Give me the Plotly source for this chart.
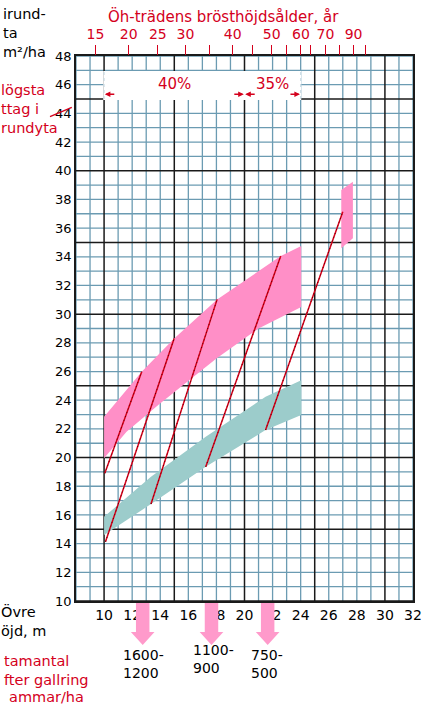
import plotly.graph_objects as go

# ---------------- data ----------------
x_range = [8, 32]            # övre höjd, m
y_range = [10, 48]           # grundyta, m2/ha
x_tick_vals = list(range(10, 33, 2))
y_tick_vals = list(range(10, 49, 2))

# top axis: breast-height age of dominant trees and the height where each tick sits
age_ticks = [15, 20, 25, 30, 35, 40, 45, 50, 55, 60, 65, 70, 80, 90, 100]
age_tick_height = [9.39, 11.75, 13.83, 15.80, 17.53, 19.16, 20.55, 21.94,
                   22.98, 24.02, 24.72, 25.76, 26.80, 27.77, 28.65]
age_labelled = [15, 20, 25, 30, 40, 50, 60, 70, 90]

# pink band: basal area when thinning is due
pink_upper_x = [10.0, 12.68, 14.99, 18.05, 22.58, 24.04]
pink_upper_y = [22.85, 25.99, 28.31, 31.03, 34.05, 34.75]
pink_lower_x = [10.0, 11.6, 13.9, 15.2, 18.0, 21.0, 24.04]
pink_lower_y = [19.95, 21.8, 23.7, 24.7, 26.9, 29.0, 30.5]

# small pink patch (final felling)
patch_x = [26.89, 27.72, 27.72, 26.89]
patch_y = [34.59, 35.29, 39.23, 38.66]

# teal band: basal area after thinning
teal_upper_x = [10.0, 13.34, 17.24, 21.5, 24.04]
teal_upper_y = [15.87, 18.66, 21.45, 24.24, 25.4]
teal_lower_x = [10.0, 13.34, 17.24, 21.5, 24.04]
teal_lower_y = [14.6, 16.76, 19.36, 21.92, 22.97]

# growth lines between thinnings
growth_start_x = [10.05, 10.1, 13.34, 17.24, 21.5]
growth_start_y = [18.9, 14.13, 16.76, 19.36, 21.92]
growth_end_x = [12.68, 14.99, 18.05, 22.58, 27.0]
growth_end_y = [25.99, 28.31, 31.03, 34.05, 37.14]

# highest removal in basal area, by height range
removal_ranges = [(10, 20), (20, 24)]
removal_pct = ["40%", "35%"]

# stems per hectare after thinning
stem_heights = [12.75, 17.65, 21.65]
stem_labels = ["1600-<br>1200", "1100-<br>900", "750-<br>500"]

# ---------------- style ----------------
RED = "#d4001c"
BLUE = "#6b9bb2"
BLACK = "#1a1a1a"
PINK = "#ff8fc7"
TEAL = "#9ccccb"
ARROW_PINK = "#ff9acb"
FONT = "DejaVu Sans"

W, H = 431, 706
ML, MR, MT, MB = 76, 9, 56, 105


def PX(px):
    return (px - ML) / (W - ML - MR)


def PY(py):
    return (H - MB - py) / (H - MT - MB)


fig = go.Figure()


def grid_trace(vx, vy, color, width):
    xs, ys = [], []
    for v in vx:
        xs += [v, v, None]
        ys += [y_range[0], y_range[1], None]
    for v in vy:
        xs += [x_range[0], x_range[1], None]
        ys += [v, v, None]
    return go.Scatter(x=xs, y=ys, mode="lines", line=dict(color=color, width=width),
                      hoverinfo="skip", showlegend=False)


fig.add_trace(grid_trace([v for v in range(x_range[0], x_range[1] + 1) if v % 5],
                         [v for v in range(y_range[0], y_range[1] + 1) if v % 5],
                         BLUE, 1.3))
fig.add_trace(grid_trace([v for v in range(x_range[0], x_range[1] + 1) if v % 5 == 0],
                         [v for v in range(y_range[0], y_range[1] + 1) if v % 5 == 0],
                         BLACK, 1.5))

# white label box
bx0, bx1 = removal_ranges[0][0], removal_ranges[-1][1]
fig.add_trace(go.Scatter(x=[bx0 - 0.06, bx1 + 0.04, bx1 + 0.04, bx0 - 0.06, bx0 - 0.06],
                         y=[44.93, 44.93, 46.95, 46.95, 44.93], mode="lines", fill="toself",
                         fillcolor="white", line=dict(width=0, color="white"),
                         hoverinfo="skip", showlegend=False))
for bx in (bx0, bx1):
    fig.add_trace(go.Scatter(x=[bx, bx], y=[45.0, 46.95], mode="lines",
                             line=dict(color="#c4d8e2", width=1, dash="dot"),
                             hoverinfo="skip", showlegend=False))

# bands
fig.add_trace(go.Scatter(x=pink_upper_x + pink_lower_x[::-1], y=pink_upper_y + pink_lower_y[::-1],
                         mode="lines", fill="toself", fillcolor=PINK, line=dict(width=0, color=PINK),
                         hoverinfo="skip", showlegend=False))
fig.add_trace(go.Scatter(x=patch_x, y=patch_y, mode="lines", fill="toself", fillcolor=PINK,
                         line=dict(width=0, color=PINK), hoverinfo="skip", showlegend=False))
fig.add_trace(go.Scatter(x=teal_upper_x + teal_lower_x[::-1], y=teal_upper_y + teal_lower_y[::-1],
                         mode="lines", fill="toself", fillcolor=TEAL, line=dict(width=0, color=TEAL),
                         hoverinfo="skip", showlegend=False))

# growth lines
gx, gy = [], []
for x0, y0, x1, y1 in zip(growth_start_x, growth_start_y, growth_end_x, growth_end_y):
    gx += [x0, x1, None]
    gy += [y0, y1, None]
fig.add_trace(go.Scatter(x=gx, y=gy, mode="lines", line=dict(color="#d8001a", width=1.5),
                         hoverinfo="skip", showlegend=False))
fig.add_trace(go.Scatter(x=gx, y=gy, mode="lines", line=dict(color="#4a0000", width=0.9, dash="1px,3px"),
                         hoverinfo="skip", showlegend=False))

# dummy trace for top axis
fig.add_trace(go.Scatter(x=[x_range[0]], y=[y_range[0]], xaxis="x2", mode="markers",
                         marker=dict(size=1, opacity=0), hoverinfo="skip", showlegend=False))

# removal labels & arrows
for (a, b), lab in zip(removal_ranges, removal_pct):
    fig.add_annotation(x=(a + b) / 2, y=46.05, text=lab, showarrow=False,
                       xanchor="center", yanchor="middle",
                       font=dict(color=RED, size=15, family=FONT))
    fig.add_annotation(x=a + 0.05, y=45.33, ax=11, ay=0, text="", showarrow=True,
                       arrowhead=2, arrowsize=0.8, arrowwidth=1.4, arrowcolor=RED, standoff=0)
    fig.add_annotation(x=b - 0.05, y=45.33, ax=-11, ay=0, text="", showarrow=True,
                       arrowhead=2, arrowsize=0.8, arrowwidth=1.4, arrowcolor=RED, standoff=0)

# stem arrows and labels
label_px = [122, 194, 254]
label_py = [664, 658.7, 664]
for hx, lab, lpx, lpy in zip(stem_heights, stem_labels, label_px, label_py):
    path = (f"M {hx-0.48},{PY(603)} L {hx+0.48},{PY(603)} L {hx+0.48},{PY(632)} "
            f"L {hx+0.84},{PY(632)} L {hx},{PY(645)} L {hx-0.84},{PY(632)} "
            f"L {hx-0.48},{PY(632)} Z")
    fig.add_shape(type="path", path=path, xref="x", yref="paper", fillcolor=ARROW_PINK,
                  line=dict(width=0), layer="above")
    fig.add_annotation(x=PX(lpx), y=PY(lpy), xref="paper", yref="paper", text=lab,
                       showarrow=False, xanchor="left", yanchor="middle", align="left",
                       font=dict(color="black", size=14, family=FONT))

# title of top axis
fig.add_annotation(x=PX(227), y=PY(16.5), xref="paper", yref="paper",
                   text="Öh-trädens brösthöjdsålder, år", showarrow=False,
                   xanchor="center", yanchor="middle",
                   font=dict(color=RED, size=15, family=FONT))

# side texts (labels cropped at the left edge, as visible)
side_blocks = [
    ("irund-<br>ta<br>m²/ha", 0, 33, "black"),
    ("lögsta<br>ttag i<br>rundyta", -2, 109, RED),
    ("Övre<br>öjd, m", -2, 621, "black"),
    ("tamantal<br>fter gallring", 1, 670, RED),
    ("ammar/ha", 6, 697, RED),
]
for txt, lpx, lpy, col in side_blocks:
    fig.add_annotation(x=PX(lpx), y=PY(lpy), xref="paper", yref="paper", text=txt,
                       showarrow=False, xanchor="left", yanchor="middle", align="left",
                       borderpad=0, font=dict(color=col, size=14.5, family=FONT))

fig.add_shape(type="line", xref="paper", yref="paper", x0=PX(49.3), y0=PY(116.7),
              x1=PX(71.7), y1=PY(107.3), line=dict(color=RED, width=1.3))

fig.update_layout(
    width=W, height=H, margin=dict(l=ML, r=MR, t=MT, b=MB, pad=0),
    paper_bgcolor="white", plot_bgcolor="white", showlegend=False,
    font=dict(family=FONT, color="black"),
    xaxis=dict(range=x_range, tickmode="array", tickvals=x_tick_vals, showgrid=False,
               zeroline=False, showline=True, linecolor=BLACK, linewidth=1.6, mirror=True,
               ticks="", tickfont=dict(size=14, color="black", family=FONT), fixedrange=True),
    xaxis2=dict(overlaying="x", side="top", range=x_range, tickmode="array",
                tickvals=age_tick_height,
                ticktext=[str(a) if a in age_labelled else "" for a in age_ticks],
                ticks="outside", ticklen=10, tickwidth=1.3, tickcolor=RED,
                tickfont=dict(size=14, color=RED, family=FONT), showgrid=False,
                showline=False, zeroline=False, fixedrange=True),
    yaxis=dict(range=y_range, tickmode="array", tickvals=y_tick_vals, showgrid=False,
               zeroline=False, showline=True, linecolor=BLACK, linewidth=1.6, mirror=True,
               ticks="", tickfont=dict(size=13, color="black", family=FONT), fixedrange=True),
)

fig.write_html("out.html", config={"displayModeBar": False},
               post_script="document.body.style.margin='0';document.body.style.overflow='hidden';")
